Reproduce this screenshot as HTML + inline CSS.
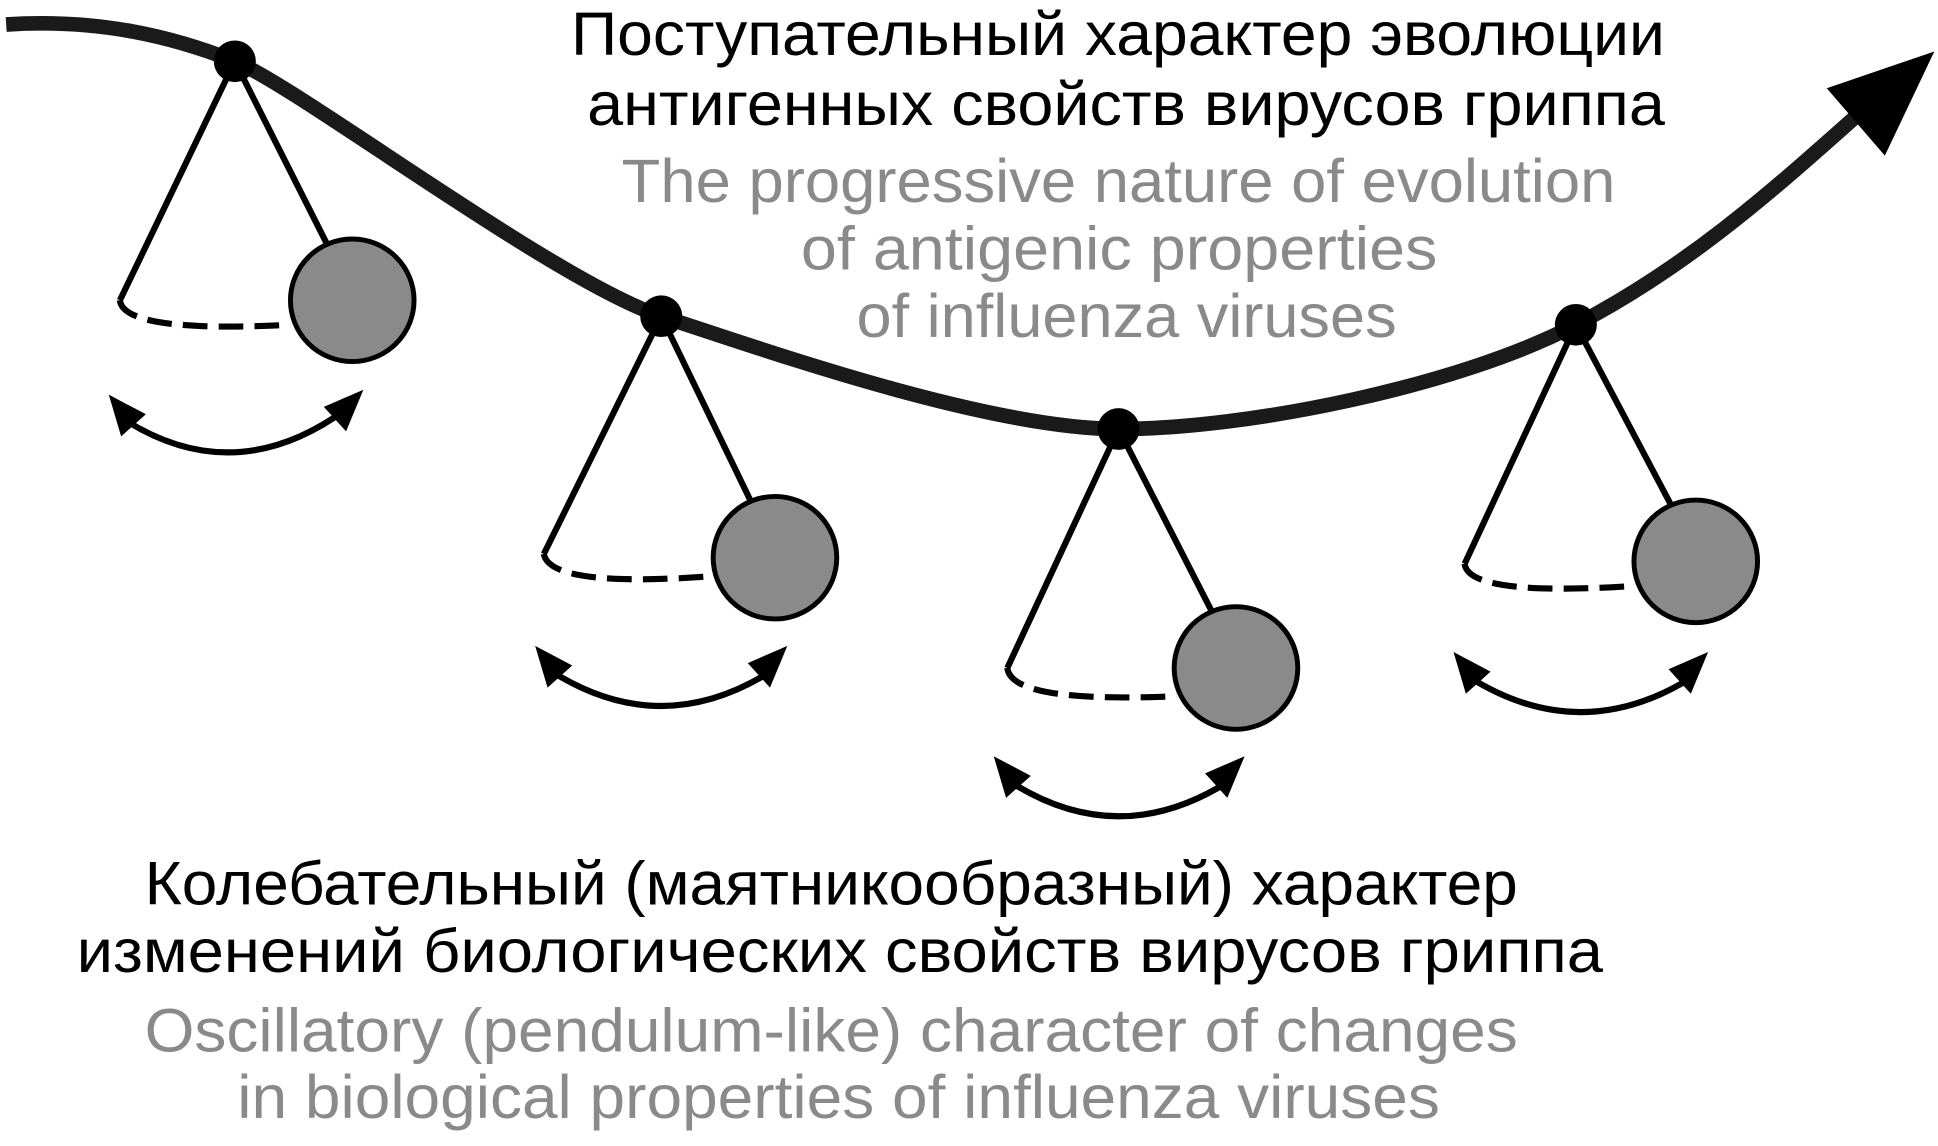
<!DOCTYPE html>
<html><head><meta charset="utf-8"><style>html,body{margin:0;padding:0;background:#fff}svg{display:block}</style></head><body>
<svg width="1938" height="1146" viewBox="0 0 1568 935" preserveAspectRatio="none" xmlns="http://www.w3.org/2000/svg">
<path d="M5,20 C80,15 140,30 190,50 S450,230 535,258 S800,350 905,350 S1180,315 1275,265 S1440,150 1505,92" stroke-width="12" stroke="#1a1a1a" fill="none"/>
<polygon points="1565,42 1478,72 1525,127" fill="#000"/>
<g stroke="#000" stroke-width="5" fill="none">
<!-- P1 -->
<polyline points="97,245 190,50 265,200"/>
<path d="M97,245 Q100,272 235,265" stroke-dasharray="20,9"/>
<path d="M100,342 Q190,400 280,334"/>
<!-- P2 -->
<polyline points="440,452 535,258 607,408"/>
<path d="M440,452 Q445,480 578,470" stroke-dasharray="20,9"/>
<path d="M445,547 Q535,605 625,547"/>
<!-- P3 -->
<polyline points="815,545 905,350 980,498"/>
<path d="M815,545 Q818,574 952,568" stroke-dasharray="20,9"/>
<path d="M816,637 Q905,695 995,637"/>
<!-- P4 -->
<polyline points="1185,460 1275,265 1352,412"/>
<path d="M1185,460 Q1188,487 1323,478" stroke-dasharray="20,9"/>
<path d="M1188,552 Q1279,610 1370,552"/>
</g>
<g fill="#000">
<polygon points="88,322 118,338 98,356"/><polygon points="294,318 262,332 280,352"/>
<polygon points="433,527 463,543 443,561"/><polygon points="637,527 605,541 623,561"/>
<polygon points="804,617 834,633 814,651"/><polygon points="1007,617 975,631 993,651"/>
<polygon points="1176,532 1206,548 1186,566"/><polygon points="1382,532 1350,546 1368,566"/>
<circle cx="190" cy="50" r="17"/><circle cx="535" cy="258" r="17"/><circle cx="905" cy="350" r="17"/><circle cx="1275" cy="265" r="17"/>
</g>
<g fill="#8a8a8a" stroke="#000" stroke-width="4">
<circle cx="285" cy="245" r="50"/><circle cx="627" cy="455" r="50"/><circle cx="1000" cy="545" r="50"/><circle cx="1372" cy="458" r="50"/>
</g>
<g font-family="'Liberation Sans Narrow','Liberation Sans',sans-serif" font-size="50">
<text x="462" y="45" textLength="885" lengthAdjust="spacingAndGlyphs" fill="#000">Поступательный характер эволюции</text>
<text x="475" y="102" textLength="872" lengthAdjust="spacingAndGlyphs" fill="#000">антигенных свойств вирусов гриппа</text>
<text x="503" y="165" textLength="804" lengthAdjust="spacingAndGlyphs" fill="#8a8a8a">The progressive nature of evolution</text>
<text x="648" y="220" textLength="515" lengthAdjust="spacingAndGlyphs" fill="#8a8a8a">of antigenic properties</text>
<text x="693" y="275" textLength="437" lengthAdjust="spacingAndGlyphs" fill="#8a8a8a">of influenza viruses</text>
<text x="117" y="738" textLength="1111" lengthAdjust="spacingAndGlyphs" fill="#000">Колебательный (маятникообразный) характер</text>
<text x="62" y="793" textLength="1235" lengthAdjust="spacingAndGlyphs" fill="#000">изменений биологических свойств вирусов гриппа</text>
<text x="117" y="858" textLength="1111" lengthAdjust="spacingAndGlyphs" fill="#8a8a8a">Oscillatory (pendulum-like) character of changes</text>
<text x="192" y="912" textLength="973" lengthAdjust="spacingAndGlyphs" fill="#8a8a8a">in biological properties of influenza viruses</text>
</g>
</svg>
</body></html>
